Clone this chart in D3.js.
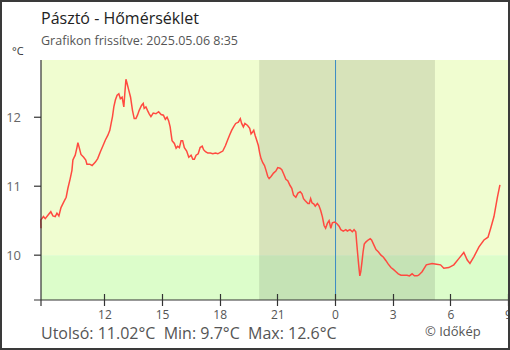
<!DOCTYPE html>
<html><head><meta charset="utf-8">
<script src="https://cdn.jsdelivr.net/npm/d3@7"></script>
<style>body{margin:0;background:#fff}svg{display:block;font-family:"Open Sans",sans-serif}</style>
</head><body><div id="chart"></div>
<script>
// hours relative to midnight (negative = previous day)
const hours = [-15.30,-15.31,-15.17,-15.08,-14.91,-14.79,-14.68,-14.56,-14.47,-14.37,-14.26,-14.12,-13.99,-13.90,-13.78,-13.69,-13.64,-13.52,-13.43,-13.38,-13.31,-13.22,-13.08,-12.97,-12.91,-12.77,-12.64,-12.47,-12.35,-12.21,-12.07,-11.95,-11.82,-11.72,-11.65,-11.58,-11.51,-11.43,-11.34,-11.25,-11.17,-11.08,-10.99,-10.94,-10.88,-10.82,-10.73,-10.64,-10.54,-10.45,-10.36,-10.28,-10.19,-10.07,-9.98,-9.93,-9.84,-9.76,-9.67,-9.58,-9.46,-9.32,-9.18,-9.05,-8.93,-8.83,-8.74,-8.66,-8.58,-8.53,-8.48,-8.36,-8.27,-8.19,-8.10,-8.01,-7.93,-7.84,-7.72,-7.61,-7.49,-7.40,-7.32,-7.23,-7.12,-7.02,-6.91,-6.84,-6.74,-6.62,-6.49,-6.36,-6.22,-6.10,-5.97,-5.84,-5.70,-5.59,-5.49,-5.38,-5.28,-5.17,-5.03,-4.93,-4.86,-4.77,-4.69,-4.55,-4.44,-4.37,-4.28,-4.23,-4.16,-4.08,-3.99,-3.92,-3.85,-3.76,-3.67,-3.59,-3.50,-3.43,-3.33,-3.20,-3.08,-2.98,-2.86,-2.77,-2.66,-2.56,-2.46,-2.34,-2.25,-2.16,-2.04,-1.93,-1.81,-1.72,-1.64,-1.55,-1.41,-1.34,-1.27,-1.20,-1.10,-1.03,-0.92,-0.84,-0.75,-0.66,-0.57,-0.49,-0.40,-0.31,-0.22,-0.14,-0.02,0.09,0.21,0.30,0.43,0.56,0.64,0.78,0.90,0.99,1.08,1.13,1.19,1.24,1.29,1.34,1.40,1.46,1.52,1.60,1.72,1.83,1.90,2.00,2.13,2.25,2.39,2.52,2.65,2.77,2.91,3.05,3.17,3.29,3.43,3.57,3.75,3.87,4.01,4.13,4.27,4.35,4.53,4.75,5.05,5.28,5.49,5.66,5.92,6.18,6.44,6.70,6.88,7.02,7.23,7.49,7.75,7.96,8.10,8.27,8.45,8.58];
const temps = [10.39,10.51,10.56,10.53,10.59,10.63,10.57,10.56,10.61,10.57,10.69,10.77,10.84,10.97,11.11,11.23,11.38,11.45,11.56,11.63,11.56,11.46,11.42,11.38,11.32,11.32,11.30,11.35,11.40,11.50,11.59,11.67,11.74,11.81,11.91,12.01,12.15,12.25,12.32,12.34,12.27,12.29,12.15,12.34,12.55,12.49,12.39,12.29,12.10,11.98,11.98,12.03,12.10,12.17,12.20,12.13,12.15,12.10,12.05,12.01,12.06,12.05,12.08,12.04,12.03,11.97,12.00,11.95,11.86,11.76,11.66,11.62,11.55,11.58,11.56,11.66,11.66,11.56,11.51,11.42,11.45,11.39,11.39,11.45,11.47,11.56,11.58,11.53,11.50,11.48,11.48,11.47,11.48,11.47,11.49,11.51,11.59,11.67,11.74,11.81,11.86,11.91,11.93,11.98,11.91,11.86,11.91,11.88,11.84,11.76,11.79,11.81,11.74,11.67,11.59,11.48,11.40,11.34,11.30,11.23,11.14,11.11,11.14,11.19,11.22,11.27,11.26,11.24,11.17,11.10,11.08,11.01,10.97,10.87,10.84,10.90,10.92,10.89,10.82,10.79,10.75,10.75,10.82,10.76,10.74,10.71,10.75,10.72,10.65,10.56,10.43,10.39,10.46,10.50,10.39,10.47,10.48,10.46,10.42,10.37,10.35,10.37,10.35,10.37,10.34,10.37,10.34,10.17,9.98,9.83,9.70,9.76,9.90,10.05,10.16,10.19,10.22,10.24,10.22,10.16,10.08,10.05,10.00,9.97,9.92,9.87,9.82,9.79,9.76,9.73,9.71,9.71,9.71,9.70,9.73,9.70,9.70,9.71,9.76,9.86,9.88,9.87,9.86,9.81,9.82,9.86,9.95,10.04,9.93,9.88,9.98,10.12,10.22,10.26,10.39,10.56,10.84,11.02];
const xTickValues = [-12,-9,-6,-3,0,3,6,9];
const xTickLabels = ["12","15","18","21","0","3","6","9"];
const yTickValues = [10,11,12];
const nightStart = -3.95, nightEnd = 5.2;
const coldLimit = 10;
const title = "Pásztó - Hőmérséklet";
const subtitle = "Grafikon frissítve: 2025.05.06 8:35";
const footer = "Utolsó: 11.02°C  Min: 9.7°C  Max: 12.6°C";
const credit = "© Időkép";

const W = 510, H = 350;
const svg = d3.select("#chart").append("svg").attr("width", W).attr("height", H);
const x = d3.scaleLinear().domain([-15.3, 9]).range([41, 508]);
const y = d3.scaleLinear().domain([9.35, 12.83]).range([300, 60]);
const pL = 41, pR = 509, pT = 60, pB = 300;

// backgrounds
svg.append("rect").attr("x", pL).attr("y", pT).attr("width", pR - pL).attr("height", y(coldLimit) - pT).attr("fill", "#f0fdd0");
svg.append("rect").attr("x", pL).attr("y", y(coldLimit)).attr("width", pR - pL).attr("height", pB - y(coldLimit)).attr("fill", "#dcfdca");
svg.append("rect").attr("x", x(nightStart)).attr("y", pT).attr("width", x(nightEnd) - x(nightStart)).attr("height", pB - pT).attr("fill", "#000").attr("opacity", 0.1);
// midnight line
svg.append("line").attr("x1", x(0) + 0.5).attr("x2", x(0) + 0.5).attr("y1", pT).attr("y2", pB).attr("stroke", "#3b8cc4").attr("stroke-width", 1);

// line
const data = hours.map((h, i) => [h, temps[i]]);
svg.append("path").datum(data).attr("fill", "none").attr("stroke", "#ff4a40").attr("stroke-width", 1.5)
  .attr("d", d3.line().x(d => x(d[0])).y(d => y(d[1])));

// axes
const ax = svg.append("g").attr("stroke", "#333").attr("stroke-width", 1.2);
ax.append("line").attr("x1", 34).attr("x2", pR).attr("y1", pB).attr("y2", pB);
ax.append("line").attr("x1", pL).attr("x2", pL).attr("y1", pT).attr("y2", 306);
xTickValues.forEach(v => {
  ax.append("line").attr("x1", Math.round(x(v)) + 0.5).attr("x2", Math.round(x(v)) + 0.5).attr("y1", 294).attr("y2", 306);
});
yTickValues.forEach(v => {
  ax.append("line").attr("x1", 34).attr("x2", pL).attr("y1", y(v)).attr("y2", y(v));
});
svg.selectAll(".xl").data(xTickValues).enter().append("text")
  .attr("x", d => x(d) + 0.5).attr("y", 319).attr("text-anchor", "middle")
  .attr("font-size", 12).attr("fill", "#555").text((d, i) => xTickLabels[i]);
svg.selectAll(".yl").data(yTickValues).enter().append("text")
  .attr("x", 21).attr("y", d => y(d) + 4.5).attr("text-anchor", "end")
  .attr("font-size", 13).attr("fill", "#666").text(d => d);

svg.append("text").attr("x", 12).attr("y", 55).attr("font-size", 11).attr("fill", "#333").text("°C");
svg.append("text").attr("x", 41).attr("y", 24).attr("font-size", 16).attr("fill", "#222").text(title);
svg.append("text").attr("x", 41).attr("y", 45).attr("font-size", 12.5).attr("fill", "#555").text(subtitle);
svg.append("text").attr("x", 41).attr("y", 339).attr("font-size", 16).attr("fill", "#555").attr("xml:space", "preserve").style("white-space", "pre").text(footer);
svg.append("text").attr("x", 425).attr("y", 336).attr("font-size", 13).attr("fill", "#555").text(credit);

svg.append("rect").attr("x", 1).attr("y", 1).attr("width", W - 2).attr("height", H - 2).attr("fill", "none").attr("stroke", "#3a3a3a").attr("stroke-width", 2);
</script></body></html>
